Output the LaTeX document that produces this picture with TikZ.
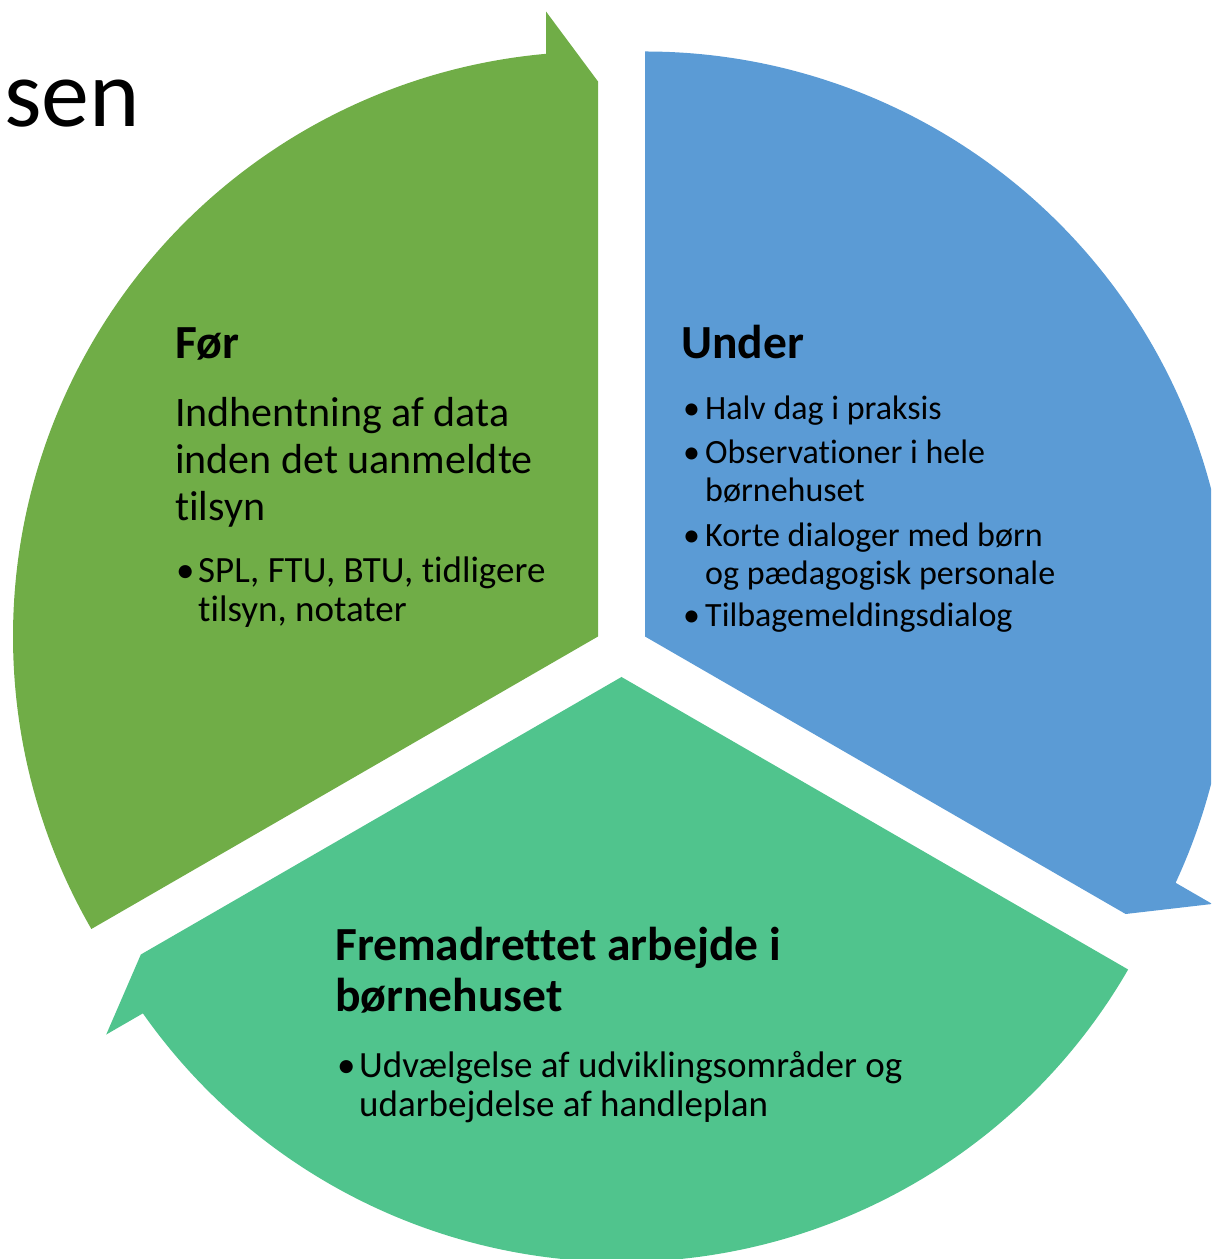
\documentclass[tikz,border=0pt]{standalone}
\usepackage{fontspec}
\setmainfont{Carlito}[RawFeature={-liga}]
\definecolor{cfor}{RGB}{112,173,71}
\definecolor{cunder}{RGB}{91,155,213}
\definecolor{cfrem}{RGB}{80,196,141}
\tikzset{
  ttl/.style={anchor=base west, inner sep=0pt, font=\fontsize{47.5}{50}\selectfont\bfseries},
  bodyl/.style={anchor=base west, inner sep=0pt, font=\fontsize{42}{46}\selectfont},
  bulA/.style={anchor=base west, inner sep=0pt, font=\fontsize{37}{40}\selectfont},
  bulB/.style={anchor=base west, inner sep=0pt, font=\fontsize{34}{37}\selectfont},
  segshape/.style={draw=none}
}
\begin{document}
\begin{tikzpicture}[x=1pt,y=1pt]
\useasboundingbox (0,0) rectangle (1211,1259);
\clip (0,0) rectangle (1211,1259);
% title fragment
\node[anchor=base west, inner sep=0pt, font=\fontsize{96}{100}\selectfont] (title) at (4,1132) {sen};
% segment: Foer
\begin{scope}[shift={(598,622.5)},rotate=90]
\fill[cfor,segshape] (0,0) -- (120:585) arc[start angle=120,end angle=5.1,radius=585] -- (625,52) -- (555,0) -- cycle;
\end{scope}
% segment: Under
\begin{scope}[shift={(645,622.5)},rotate=-30]
\fill[cunder,segshape] (0,0) -- (120:585) arc[start angle=120,end angle=5.1,radius=585] -- (625,52) -- (555,0) -- cycle;
\end{scope}
% segment: Fremadrettet
\begin{scope}[shift={(621.5,582)},rotate=210]
\fill[cfrem,segshape] (0,0) -- (120:585) arc[start angle=120,end angle=5.1,radius=585] -- (625,52) -- (555,0) -- cycle;
\end{scope}
% texts Foer
\node[ttl] (forT) at (175,900) {Før};
\node[bodyl] (forL1) at (175,832) {Indhentning af data};
\node[bodyl] (forL2) at (175,785) {inden det uanmeldte};
\node[bodyl] (forL3) at (175,738) {tilsyn};
\node[bulA] (forB) at (176,676) {•};
\node[bulA] (forB1) at (198,676) {SPL, FTU, BTU, tidligere};
\node[bulA] (forB2) at (198,637) {tilsyn, notater};
% texts Under
\node[ttl] (undT) at (681,900) {Under};
\node[bulB] (undD1) at (683,839) {•};
\node[bulB] (undL1) at (705,839) {Halv dag i praksis};
\node[bulB] (undD2) at (683,795) {•};
\node[bulB] (undL2) at (705,795) {Observationer i hele};
\node[bulB] (undL3) at (705,757) {børnehuset};
\node[bulB] (undD3) at (683,712) {•};
\node[bulB] (undL4) at (705,712) {Korte dialoger med børn};
\node[bulB] (undL5) at (705,674) {og pædagogisk personale};
\node[bulB] (undD4) at (683,632) {•};
\node[bulB] (undL6) at (705,632) {Tilbagemeldingsdialog};
% texts Fremadrettet
\node[ttl] (fremT1) at (335,298) {Fremadrettet arbejde i};
\node[ttl] (fremT2) at (335,247) {børnehuset};
\node[bulA] (fremD) at (337,181) {•};
\node[bulA] (fremL1) at (359,181) {Udvælgelse af udviklingsområder og};
\node[bulA] (fremL2) at (359,142) {udarbejdelse af handleplan};
\end{tikzpicture}
\end{document}
